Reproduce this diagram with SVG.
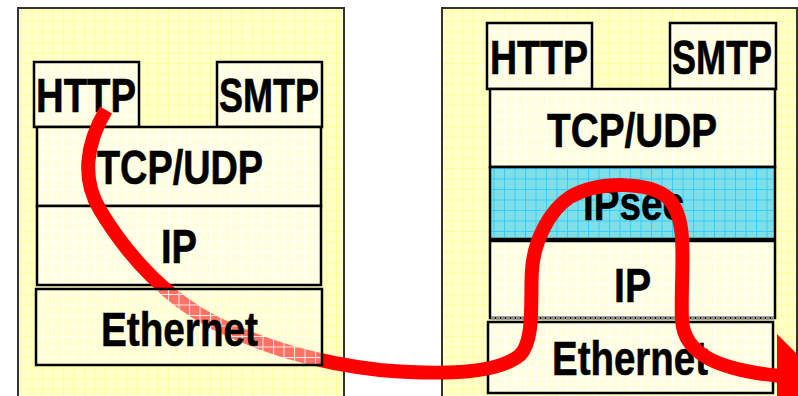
<svg xmlns="http://www.w3.org/2000/svg" width="798" height="396" viewBox="0 0 798 396">
  <defs>
    <pattern id="gridOuter" width="10.5" height="10.5" patternUnits="userSpaceOnUse">
      <rect width="10.5" height="10.5" fill="#ffffc8"/>
      <path d="M0 0.5H10.5M0.5 0V10.5" stroke="#ffff99" stroke-width="1"/>
    </pattern>
    <pattern id="gridInner" width="10.5" height="10.5" patternUnits="userSpaceOnUse">
      <rect width="10.5" height="10.5" fill="#ffffe0"/>
      <path d="M0 0.5H10.5M0.5 0V10.5" stroke="#ffffff" stroke-width="1"/>
    </pattern>
    <pattern id="gridInnerSheer" width="10.5" height="10.5" patternUnits="userSpaceOnUse">
      <rect width="10.5" height="10.5" fill="#ffffe0" fill-opacity="0.45"/>
      <path d="M0 0.5H10.5M0.5 0V10.5" stroke="#ffffff" stroke-opacity="0.85" stroke-width="1"/>
    </pattern>
    <pattern id="gridCyan" width="10.5" height="10.5" patternUnits="userSpaceOnUse">
      <rect width="10.5" height="10.5" fill="#80dfe6"/>
      <path d="M0 0.5H10.5M0.5 0V10.5" stroke="#33ccff" stroke-width="1"/>
    </pattern>
  </defs>
  <style>
    .panel { fill: url(#gridOuter); stroke: #333333; stroke-width: 2; }
    .box { fill: url(#gridInner); stroke: #000000; stroke-width: 2.5; }
    .sheer { fill: url(#gridInnerSheer); stroke: #000000; stroke-width: 2.5; }
    .sec { fill: url(#gridCyan); stroke: #000000; stroke-width: 2.5; }
    .lbl { font-family: "Liberation Sans", Arial, sans-serif; font-weight: bold; font-size: 48px; fill: #000000; stroke: #000000; stroke-width: 0.6; }
    .flow { fill: none; stroke: #ff0000; stroke-width: 14; }
  </style>

  <!-- host A protocol stack -->
  <g id="hostA">
    <rect class="panel" x="18" y="8" width="326" height="400"/>
  </g>
  <g id="hostA-http">
    <rect class="box" x="34" y="62" width="105" height="65"/>
    <text class="lbl" x="36" y="112" textLength="100" lengthAdjust="spacingAndGlyphs">HTTP</text>
  </g>
  <g id="hostA-smtp">
    <rect class="box" x="217" y="62" width="105" height="65"/>
    <text class="lbl" x="219" y="112" textLength="100" lengthAdjust="spacingAndGlyphs">SMTP</text>
  </g>
  <g id="hostA-tcpudp">
    <rect class="box" x="37" y="127" width="284" height="79"/>
    <text class="lbl" x="97" y="184" textLength="166" lengthAdjust="spacingAndGlyphs">TCP/UDP</text>
  </g>
  <g id="hostA-ip">
    <rect class="box" x="37" y="206" width="284" height="79"/>
    <text class="lbl" x="161" y="263" textLength="36" lengthAdjust="spacingAndGlyphs">IP</text>
  </g>

  <!-- host B protocol stack with IPsec layer -->
  <g id="hostB">
    <rect class="panel" x="442" y="8" width="355" height="400"/>
  </g>
  <g id="hostB-http">
    <rect class="box" x="487" y="23" width="105" height="66"/>
    <text class="lbl" x="490" y="74" textLength="98" lengthAdjust="spacingAndGlyphs">HTTP</text>
  </g>
  <g id="hostB-smtp">
    <rect class="box" x="670" y="23" width="106" height="66"/>
    <text class="lbl" x="672" y="74" textLength="100" lengthAdjust="spacingAndGlyphs">SMTP</text>
  </g>
  <g id="hostB-tcpudp">
    <rect class="box" x="490" y="89" width="285" height="78"/>
    <text class="lbl" x="547" y="147" textLength="170" lengthAdjust="spacingAndGlyphs">TCP/UDP</text>
  </g>
  <g id="hostB-ipsec">
    <rect class="sec" x="490" y="167" width="285" height="72"/>
    <text class="lbl" x="583" y="220" textLength="101" lengthAdjust="spacingAndGlyphs">IPsec</text>
  </g>
  <g id="hostB-ip">
    <rect class="box" x="490" y="241" width="285" height="77"/>
    <line x1="491" y1="318" x2="774" y2="318" stroke="#888888" stroke-width="3" stroke-dasharray="4 1"/>
    <text class="lbl" x="614" y="302" textLength="37" lengthAdjust="spacingAndGlyphs">IP</text>
  </g>
  <g id="hostB-ethernet">
    <rect class="box" x="488" y="322" width="285" height="71"/>
    <text class="lbl" x="552" y="375" textLength="156" lengthAdjust="spacingAndGlyphs">Ethernet</text>
  </g>

  <!-- packet path: down host A, across the link, up through IPsec on host B -->
  <g id="connectors">
    <path class="flow" d="M106 110 C85 145 82 180 100 210 C130 260 170 300 215 323 C260 345 310 362 380 370 C450 376 500 372 520 355 C535 340 530 300 532 270 C534 240 550 210 570 197 C600 180 650 182 668 198 C690 220 680 270 682 320 C684 355 720 370 780 376"/>
    <polygon points="777,334 777,420 820,377" fill="#ff0000"/>
  </g>

  <!-- host A link layer, drawn over the path -->
  <g id="hostA-ethernet">
    <rect class="sheer" x="36" y="289" width="286" height="76"/>
    <text class="lbl" x="101" y="346" textLength="157" lengthAdjust="spacingAndGlyphs">Ethernet</text>
  </g>
</svg>
